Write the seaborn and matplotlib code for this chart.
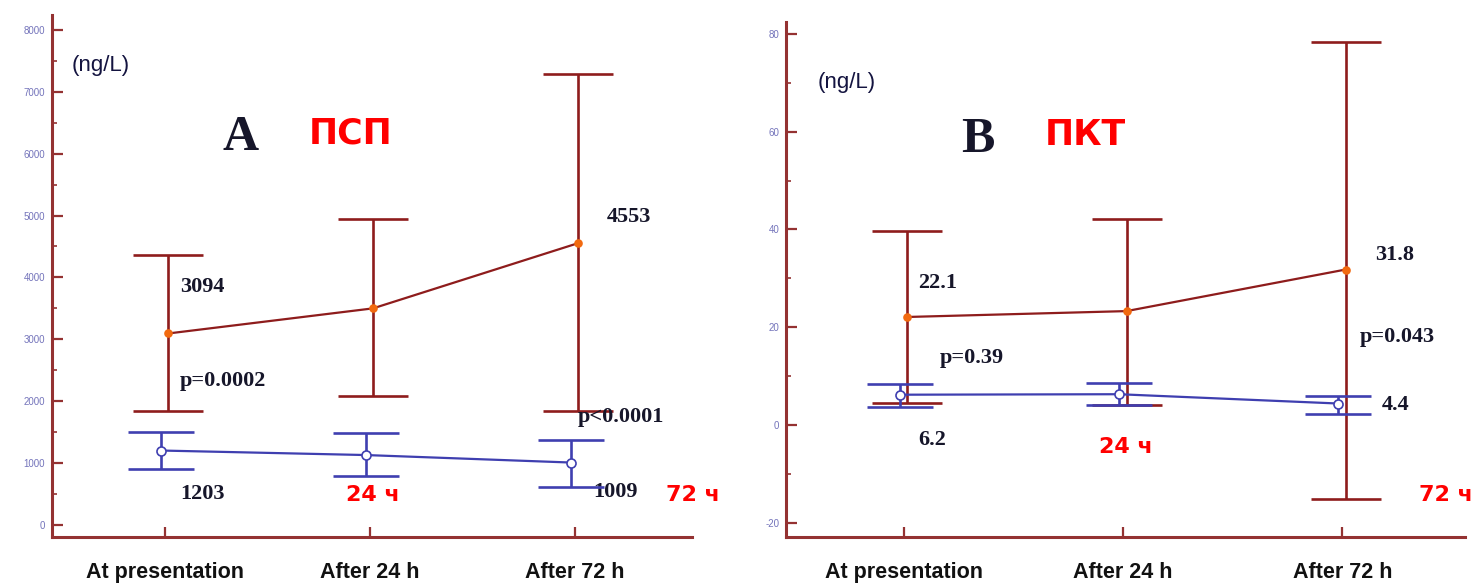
import matplotlib
matplotlib.use("Agg")
import matplotlib.pyplot as plt
import numpy as np
import pandas as pd
import seaborn as sns
from matplotlib.ticker import MultipleLocator

# Time points of sampling
timepoints = ["At presentation", "After 24 h", "After 72 h"]

# Panel A: presepsin (ПСП), ng/L
psp_sepsis_mean = [3094, 3500, 4553]
psp_sepsis_low = [1840, 2080, 1840]
psp_sepsis_high = [4360, 4950, 7280]
psp_ctrl_mean = [1203, 1130, 1009]
psp_ctrl_low = [900, 790, 610]
psp_ctrl_high = [1500, 1480, 1380]

# Panel B: procalcitonin (ПКТ), ng/L
pct_sepsis_mean = [22.1, 23.3, 31.8]
pct_sepsis_low = [4.5, 4.1, -15.1]
pct_sepsis_high = [39.7, 42.2, 78.3]
pct_ctrl_mean = [6.2, 6.3, 4.4]
pct_ctrl_low = [3.7, 4.1, 2.2]
pct_ctrl_high = [8.4, 8.6, 5.9]

p_values_a = ["p=0.0002", "p<0.0001"]
p_values_b = ["p=0.39", "p=0.043"]

sns.set_style("white")
plt.rcParams["font.family"] = ["DejaVu Sans"]
plt.rcParams["axes.unicode_minus"] = False

RED = "#8e1c1c"
ORANGE = "#f26a10"
BLUE = "#3f3fb0"
SPINE = "#943232"
TICKLAB = "#7474bb"
TXT = "#16162a"

SERIF = "Liberation Serif"
SANS = "Liberation Sans"

fig = plt.figure(figsize=(14.77, 5.84), dpi=100)
axA = fig.add_axes([0.0352, 0.0805, 0.4333, 0.894])
axB = fig.add_axes([0.5322, 0.0805, 0.4597, 0.882])


def draw_series(ax, mean, low, high, color, shift, face, edge, msize, cap, z):
    df = pd.DataFrame({"pos": np.arange(len(timepoints)) + shift, "value": mean})
    err = [np.array(mean) - np.array(low), np.array(high) - np.array(mean)]
    ax.errorbar(df["pos"], df["value"], yerr=err, fmt="none", ecolor=color,
                elinewidth=1.9, capsize=cap, capthick=1.9, zorder=z)
    sns.lineplot(data=df, x="pos", y="value", ax=ax, color=color, lw=1.6,
                 marker="o", markersize=msize, markerfacecolor=face,
                 markeredgecolor=edge, markeredgewidth=1.2, zorder=z + 1)


def style_axes(ax, ylim, xlim, major, minor):
    ax.set_xlim(*xlim)
    ax.set_ylim(*ylim)
    ax.set_xticks(range(len(timepoints)))
    ax.set_xticklabels(timepoints, fontfamily=SANS, fontweight="bold",
                       fontsize=15.5, color="#111111")
    ax.yaxis.set_major_locator(MultipleLocator(major))
    ax.yaxis.set_minor_locator(MultipleLocator(minor))
    for lab in ax.get_yticklabels():
        lab.set_fontfamily(SANS)
    ax.tick_params(axis="y", which="major", left=True, direction="in",
                   length=8, width=1.6, color=SPINE, labelsize=7,
                   labelcolor=TICKLAB, pad=5)
    ax.tick_params(axis="y", which="minor", left=True, direction="in",
                   length=3.5, width=1.2, color=SPINE)
    ax.tick_params(axis="x", which="major", bottom=True, direction="in",
                   length=7, width=1.6, color=SPINE, pad=18)
    for side in ("top", "right"):
        ax.spines[side].set_visible(False)
    for side in ("left", "bottom"):
        ax.spines[side].set_color(SPINE)
        ax.spines[side].set_linewidth(2.2)
    ax.set_xlabel("")
    ax.set_ylabel("")
    ax.grid(False)


def label(ax, x, y, s, **kw):
    opts = dict(fontfamily=SERIF, fontsize=16, fontweight="bold", color=TXT,
                ha="left", va="center")
    opts.update(kw)
    ax.text(x, y, s, **opts)


def red_label(ax, x, y, s, size=16):
    ax.text(x, y, s, fontfamily="DejaVu Sans", fontweight="bold", fontsize=size,
            color="#ff0000", ha="left", va="center")


# ---- Panel A ----
draw_series(axA, psp_sepsis_mean, psp_sepsis_low, psp_sepsis_high, RED, 0.015,
            ORANGE, ORANGE, 5, 25, 2)
draw_series(axA, psp_ctrl_mean, psp_ctrl_low, psp_ctrl_high, BLUE, -0.02,
            "white", BLUE, 6.5, 24, 4)
style_axes(axA, (-194, 8242), (-0.551, 2.571), 1000, 500)

label(axA, -0.454, 7431, "(ng/L)", fontfamily=SANS, fontsize=16,
      fontweight="normal", color="#141440")
label(axA, 0.37, 6252, "A", fontsize=36, ha="center")
red_label(axA, 0.70, 6333, "ПСП", size=25)
label(axA, 0.073, 3845, f"{psp_sepsis_mean[0]}")
label(axA, 0.073, 2326, p_values_a[0])
label(axA, 0.073, 500, f"{psp_ctrl_mean[0]}")
label(axA, 2.156, 4976, f"{psp_sepsis_mean[2]}")
label(axA, 2.015, 1745, p_values_a[1])
label(axA, 2.088, 533, f"{psp_ctrl_mean[2]}")
red_label(axA, 0.883, 485, "24 ч")
red_label(axA, 2.444, 485, "72 ч")

# ---- Panel B ----
draw_series(axB, pct_sepsis_mean, pct_sepsis_low, pct_sepsis_high, RED, 0.015,
            ORANGE, ORANGE, 5, 25, 2)
draw_series(axB, pct_ctrl_mean, pct_ctrl_low, pct_ctrl_high, BLUE, -0.02,
            "white", BLUE, 6.5, 24, 4)
style_axes(axB, (-22.9, 82.45), (-0.539, 2.56), 20, 10)

label(axB, -0.393, 70.1, "(ng/L)", fontfamily=SANS, fontsize=16,
      fontweight="normal", color="#141440")
label(axB, 0.338, 58.3, "B", fontsize=36, ha="center")
red_label(axB, 0.64, 59.3, "ПКТ", size=25)
label(axB, 0.064, 29.0, f"{pct_sepsis_mean[0]}")
label(axB, 0.164, 13.7, p_values_b[0])
label(axB, 0.064, -3.1, f"{pct_ctrl_mean[0]}")
label(axB, 2.15, 34.8, f"{pct_sepsis_mean[2]}")
label(axB, 2.08, 18.0, p_values_b[1])
label(axB, 2.18, 4.1, f"{pct_ctrl_mean[2]}")
red_label(axB, 0.89, -4.5, "24 ч")
red_label(axB, 2.35, -14.3, "72 ч")

fig.savefig("out.png", dpi=100, facecolor="white")
